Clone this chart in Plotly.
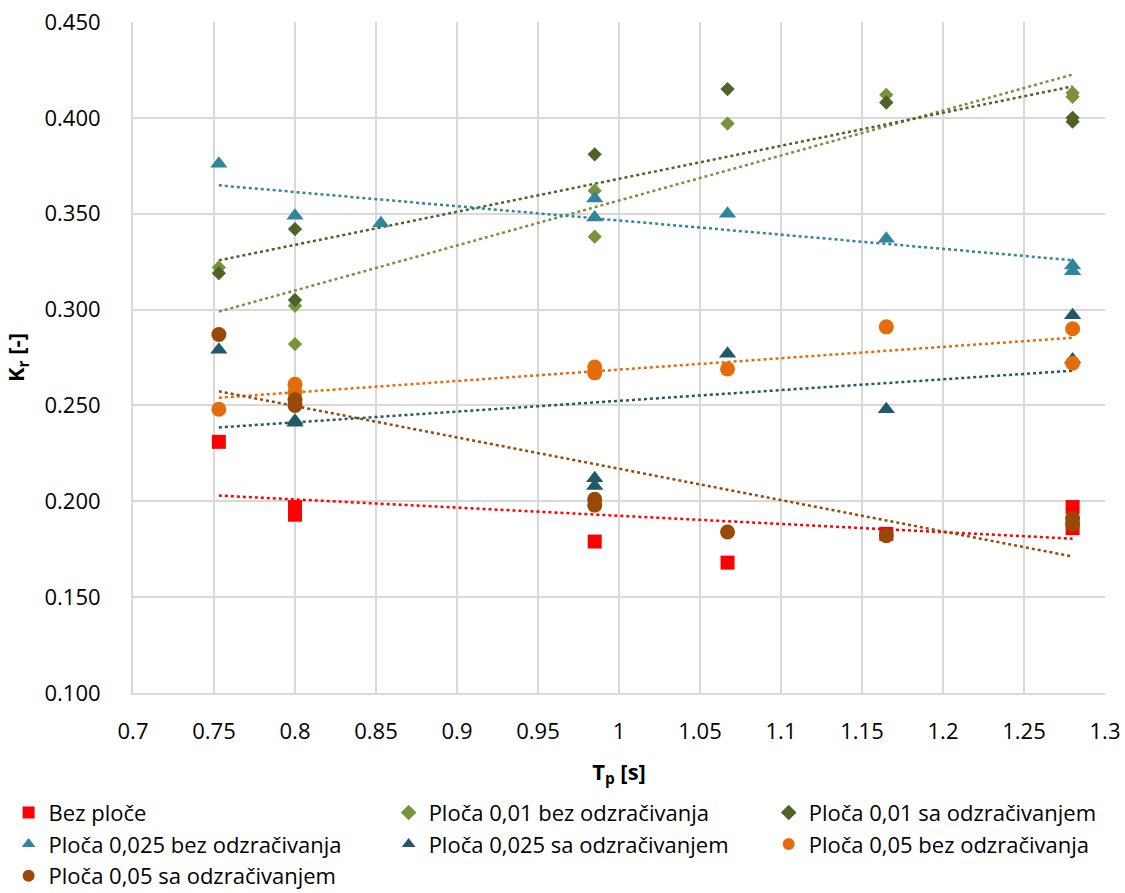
import numpy as np
import plotly.graph_objects as go

# ---- data ----
bez_x = [0.753, 0.8, 0.8, 0.985, 1.067, 1.165, 1.28, 1.28]
bez_y = [0.231, 0.197, 0.193, 0.179, 0.168, 0.183, 0.197, 0.186]

p01b_x = [0.753, 0.8, 0.8, 0.985, 0.985, 1.067, 1.165, 1.28, 1.28]
p01b_y = [0.322, 0.302, 0.282, 0.362, 0.338, 0.397, 0.412, 0.413, 0.411]

p01s_x = [0.753, 0.8, 0.8, 0.985, 1.067, 1.165, 1.28, 1.28]
p01s_y = [0.319, 0.342, 0.305, 0.381, 0.415, 0.408, 0.400, 0.398]

p025b_x = [0.753, 0.8, 0.853, 0.985, 0.985, 1.067, 1.165, 1.28, 1.28]
p025b_y = [0.376, 0.349, 0.345, 0.358, 0.348, 0.350, 0.337, 0.323, 0.320]

p025s_x = [0.753, 0.8, 0.8, 0.985, 0.985, 1.067, 1.165, 1.28, 1.28]
p025s_y = [0.279, 0.242, 0.241, 0.212, 0.208, 0.277, 0.248, 0.297, 0.274]

p05b_x = [0.753, 0.8, 0.8, 0.985, 0.985, 1.067, 1.165, 1.28, 1.28]
p05b_y = [0.248, 0.261, 0.257, 0.270, 0.267, 0.269, 0.291, 0.290, 0.272]

p05s_x = [0.753, 0.8, 0.8, 0.985, 0.985, 1.067, 1.165, 1.28, 1.28]
p05s_y = [0.287, 0.253, 0.250, 0.201, 0.198, 0.184, 0.182, 0.191, 0.188]

names = ["Bez ploče", "Ploča 0,01 bez odzračivanja", "Ploča 0,01 sa odzračivanjem",
         "Ploča 0,025 bez odzračivanja", "Ploča 0,025 sa odzračivanjem",
         "Ploča 0,05 bez odzračivanja", "Ploča 0,05 sa odzračivanjem"]
xs = [bez_x, p01b_x, p01s_x, p025b_x, p025s_x, p05b_x, p05s_x]
ys = [bez_y, p01b_y, p01s_y, p025b_y, p025s_y, p05b_y, p05s_y]
colors = ["#FF0000", "#77933C", "#4F6228", "#31859C", "#215968", "#E46C0A", "#984807"]
symbols = ["square", "diamond", "diamond", "triangle-up", "triangle-up", "circle", "circle"]
sizes = [14, 11, 11, 15, 15, 15, 15]
# legend column for each series (3-column legend laid out row by row)
legend_ids = ["legend", "legend2", "legend3", "legend", "legend2", "legend3", "legend"]

x_ticks = [0.7, 0.75, 0.8, 0.85, 0.9, 0.95, 1.0, 1.05, 1.1, 1.15, 1.2, 1.25, 1.3]
x_tick_text = ["0.7", "0.75", "0.8", "0.85", "0.9", "0.95", "1", "1.05", "1.1",
               "1.15", "1.2", "1.25", "1.3"]

FONT = "Open Sans"
fig = go.Figure()

# trendlines (linear least squares on each series)
for x, y, c in zip(xs, ys, colors):
    k, b = np.polyfit(x, y, 1)
    tx = np.linspace(min(x), max(x), 2)
    fig.add_trace(go.Scatter(x=tx, y=k * tx + b, mode="lines", showlegend=False,
                             hoverinfo="skip",
                             line=dict(color=c, width=2.5, dash="dot")))

for x, y, n, c, s, sz, lg in zip(xs, ys, names, colors, symbols, sizes, legend_ids):
    fig.add_trace(go.Scatter(x=x, y=y, mode="markers", name=n, legend=lg,
                             marker=dict(color=c, symbol=s, size=sz, line=dict(width=0))))

leg_common = dict(orientation="v", xanchor="left", y=-0.147, yanchor="top",
                  itemsizing="constant", font=dict(size=22), tracegroupgap=0,
                  bgcolor="rgba(0,0,0,0)")

fig.update_layout(
    width=1125, height=893,
    margin=dict(l=133, r=20, t=22, b=200, autoexpand=False),
    paper_bgcolor="white", plot_bgcolor="white",
    font=dict(family=FONT, size=22, color="black"),
    legend=dict(x=-0.128, **leg_common),
    legend2=dict(x=0.263, **leg_common),
    legend3=dict(x=0.654, **leg_common),
    xaxis=dict(range=[0.7, 1.3], tickvals=x_ticks, ticktext=x_tick_text,
               showgrid=True, gridcolor="#D9D9D9", gridwidth=2, zeroline=False,
               showline=True, linecolor="#D9D9D9", linewidth=2,
               ticks="", ticklabelstandoff=18, tickfont=dict(size=22),
               title=dict(text="<b>T<sub>p</sub> [s]</b>", font=dict(size=22), standoff=20)),
    yaxis=dict(range=[0.1, 0.45], dtick=0.05, tickformat=".3f", showgrid=True,
               gridcolor="#D9D9D9", gridwidth=2, zeroline=False,
               showline=True, linecolor="#D9D9D9", linewidth=2,
               ticks="", ticklabelstandoff=26, tickfont=dict(size=22),
               title=dict(text="<b>K<sub>r</sub> [-]</b>", font=dict(size=22), standoff=15)),
)

fig.write_html("out.html", config={"displayModeBar": False},
               post_script="document.body.style.margin='0';document.body.style.overflow='hidden';")
